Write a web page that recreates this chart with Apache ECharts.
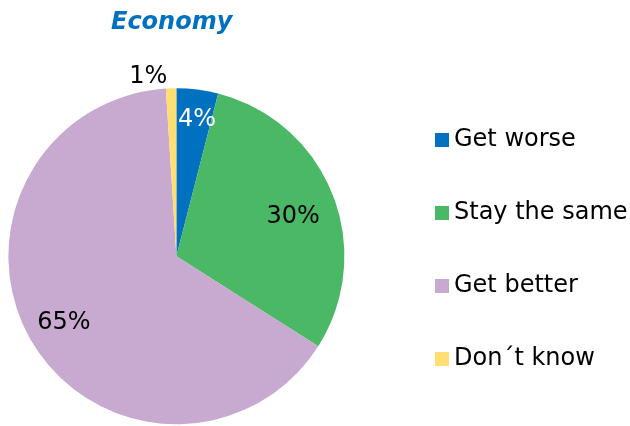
<!DOCTYPE html>
<html>
<head>
<meta charset="utf-8">
<script src="https://cdn.jsdelivr.net/npm/echarts@6/dist/echarts.min.js"></script>
<style>
html,body{margin:0;padding:0;background:#fff;}
#chart{width:630px;height:426px;}
</style>
</head>
<body>
<div id="chart"></div>
<script>
const titleText = 'Economy';
const categories = ['Get worse', 'Stay the same', 'Get better', 'Don\u00b4t know'];
const values = [4, 30, 65, 1];
const colors = ['#0070C0', '#4AB864', '#C8A9D0', '#FFDF72'];
const labelColors = ['#ffffff', '#000000', '#000000', '#000000'];
const labelOffsets = [[4, -4], [-7, 10], [2, -1], [-24, -47]];

const chart = echarts.init(document.getElementById('chart'), null, {renderer: 'canvas'});
const font = '"DejaVu Sans", Verdana, sans-serif';

const pieData = categories.map((c, i) => ({
  name: c, value: values[i], itemStyle: {color: colors[i]}
}));
const labelData = categories.map((c, i) => ({
  name: c, value: values[i],
  label: {color: labelColors[i], offset: labelOffsets[i]}
}));

chart.setOption({
  animation: false,
  title: {
    text: titleText,
    left: 111, top: 11, padding: 0,
    textStyle: {fontFamily: font, fontSize: 24, fontWeight: 'bold', fontStyle: 'italic', color: '#0070C0', lineHeight: 24}
  },
  legend: {
    orient: 'vertical',
    left: 435, top: 128,
    padding: 0,
    itemWidth: 14, itemHeight: 14,
    itemGap: 49,
    icon: 'rect',
    data: categories,
    textStyle: {fontFamily: font, fontSize: 24, color: '#000', lineHeight: 24, padding: [0,0,0,0]}
  },
  series: [
    {
      type: 'pie',
      center: [176.4, 256.2],
      radius: [0, 168],
      startAngle: 90,
      clockwise: true,
      label: {show: false},
      labelLine: {show: false},
      itemStyle: {borderWidth: 0},
      emphasis: {disabled: true},
      data: pieData
    },
    {
      type: 'pie',
      center: [176.4, 256.2],
      radius: [0, 260],
      startAngle: 90,
      clockwise: true,
      silent: true,
      itemStyle: {color: 'rgba(0,0,0,0)'},
      label: {
        show: true, position: 'inside',
        formatter: p => p.value + '%',
        fontFamily: font, fontSize: 24
      },
      labelLine: {show: false},
      emphasis: {disabled: true},
      data: labelData
    }
  ]
});
</script>
</body>
</html>
